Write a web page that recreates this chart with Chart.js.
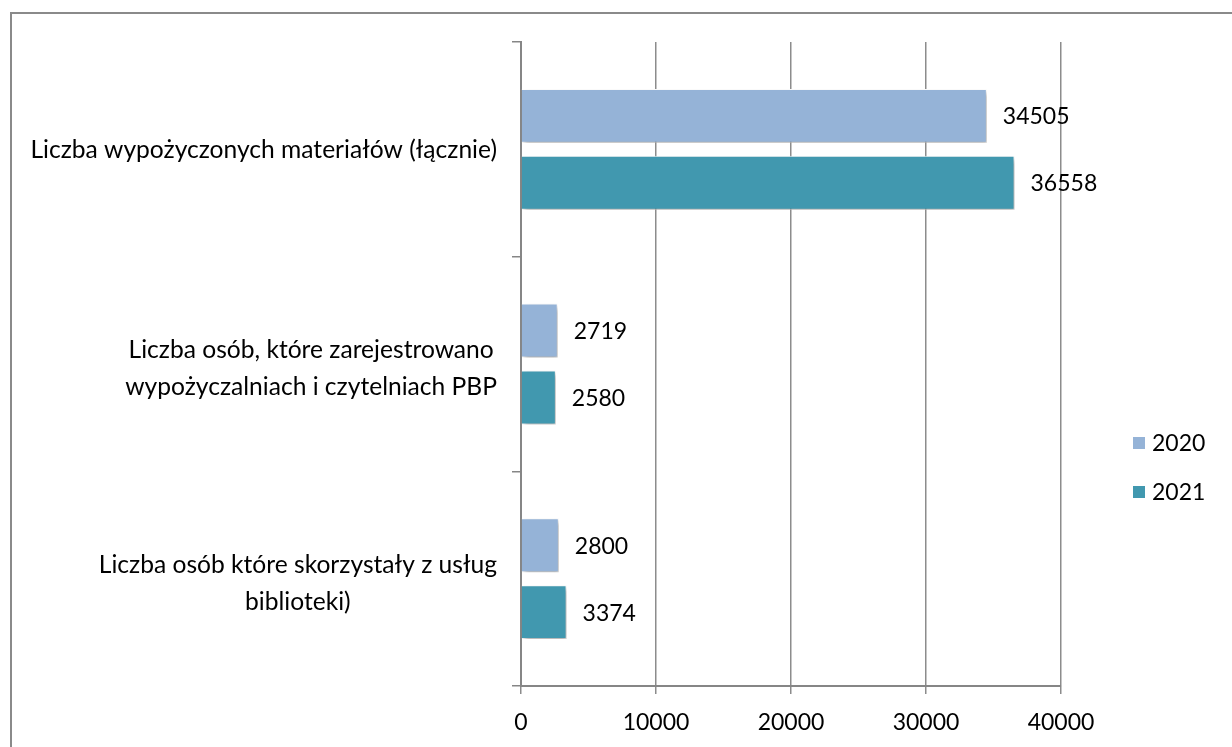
<!DOCTYPE html>
<html>
<head>
<meta charset="utf-8">
<script src="https://cdn.jsdelivr.net/npm/chart.js@4.4.1/dist/chart.umd.min.js"></script>
<style>
  html, body { margin: 0; padding: 0; background: #fff; overflow: hidden; }
  #wrap { position: relative; width: 1232px; height: 747px; }
  #frame { position: absolute; left: 10px; top: 12px; width: 1300px; height: 800px; border: 2px solid #8a8a8a; }
  canvas { position: absolute; left: 0; top: 0; }
</style>
</head>
<body>
<div id="wrap">
  <div id="frame"></div>
  <canvas id="chart" width="1232" height="747"></canvas>
</div>
<script>
const categories = [
  ["Liczba wypożyczonych materiałów (łącznie)"],
  ["Liczba osób, które zarejestrowano", "wypożyczalniach i czytelniach PBP"],
  ["Liczba osób które skorzystały z usług", "biblioteki)"],
];
const seriesNames = ["2020", "2021"];
const values2020 = [34505, 2719, 2800];
const values2021 = [36558, 2580, 3374];
const xTicks = [0, 10000, 20000, 30000, 40000];

const FONT = "Lato, 'Open Sans', sans-serif";
const FONT_SIZE = 23;
const LABEL_SIZE = 24.6;

// excel-like soft shadow under the bars
const shadowPlugin = {
  id: "barShadow",
  beforeDatasetsDraw(chart) {
    const ctx = chart.ctx;
    ctx.save();
    ctx.shadowColor = "rgba(0, 0, 0, 0.35)";
    ctx.shadowBlur = 5;
    ctx.shadowOffsetX = 2;
    ctx.shadowOffsetY = 3;
  },
  afterDatasetsDraw(chart) {
    chart.ctx.restore();
  },
};

const valueLabels = {
  id: "valueLabels",
  afterDatasetsDraw(chart) {
    const ctx = chart.ctx;
    ctx.save();
    ctx.shadowColor = "transparent";
    ctx.font = `${FONT_SIZE}px ${FONT}`;
    ctx.fillStyle = "#000";
    ctx.textAlign = "left";
    ctx.textBaseline = "middle";
    chart.data.datasets.forEach((ds, i) => {
      chart.getDatasetMeta(i).data.forEach((bar, j) => {
        ctx.fillText(String(ds.data[j]), bar.x + 16, bar.y + 1);
      });
    });
    ctx.restore();
  },
};

// category labels: block right aligned, lines centred inside the block
const categoryLabels = {
  id: "categoryLabels",
  afterDraw(chart) {
    const ctx = chart.ctx;
    const yScale = chart.scales.y;
    const right = 497;
    const lineH = 37;
    ctx.save();
    ctx.font = `${LABEL_SIZE}px ${FONT}`;
    ctx.fillStyle = "#000";
    ctx.textAlign = "center";
    ctx.textBaseline = "middle";
    categories.forEach((lines, i) => {
      const yc = yScale.getPixelForValue(i) + (lines.length > 1 ? 4 : 0);
      const w = Math.max(...lines.map((l) => ctx.measureText(l).width));
      const cx = right - w / 2;
      lines.forEach((l, k) => {
        ctx.fillText(l, cx, yc + (k - (lines.length - 1) / 2) * lineH + 1);
      });
    });
    ctx.restore();
  },
};

const sideLegend = {
  id: "sideLegend",
  afterDraw(chart) {
    const ctx = chart.ctx;
    ctx.save();
    ctx.font = `${FONT_SIZE}px ${FONT}`;
    ctx.textAlign = "left";
    ctx.textBaseline = "middle";
    chart.data.datasets.forEach((ds, i) => {
      const y = 443 + i * 49;
      ctx.fillStyle = ds.backgroundColor;
      ctx.fillRect(1133, y - 6, 12, 12);
      ctx.fillStyle = "#000";
      ctx.fillText(ds.label, 1152, y + 1);
    });
    ctx.restore();
  },
};

new Chart(document.getElementById("chart"), {
  type: "bar",
  data: {
    labels: categories,
    datasets: [
      {
        label: seriesNames[0],
        data: values2020,
        backgroundColor: "#95b3d7",
        borderColor: "#ffffff",
        borderWidth: 1,
      },
      {
        label: seriesNames[1],
        data: values2021,
        backgroundColor: "#4198af",
        borderColor: "#ffffff",
        borderWidth: 1,
      },
    ],
  },
  options: {
    indexAxis: "y",
    responsive: false,
    animation: false,
    devicePixelRatio: 1,
    categoryPercentage: 0.623,
    barPercentage: 0.806,
    layout: { padding: { left: 0, top: 42, right: 171, bottom: 0 } },
    plugins: {
      legend: { display: false },
      tooltip: { enabled: false },
    },
    scales: {
      y: {
        type: "category",
        offset: true,
        border: { color: "#868686", width: 2 },
        grid: {
          offset: true,
          drawOnChartArea: false,
          drawTicks: true,
          tickLength: 9,
          color: "#868686",
          lineWidth: 1.5,
        },
        ticks: { display: false },
        afterFit: (s) => { s.width = 521; },
      },
      x: {
        type: "linear",
        min: 0,
        max: 40000,
        afterBuildTicks: (s) => { s.ticks = xTicks.map((v) => ({ value: v })); },
        border: { color: "#868686", width: 2 },
        grid: { color: "#8c8c8c", lineWidth: 1.5, tickLength: 8 },
        ticks: {
          color: "#000",
          padding: 15,
          maxRotation: 0,
          font: { family: FONT, size: FONT_SIZE },
          callback: (v) => String(v),
        },
        afterFit: (s) => { s.height = 61; },
      },
    },
  },
  plugins: [shadowPlugin, valueLabels, categoryLabels, sideLegend],
});
</script>
</body>
</html>
